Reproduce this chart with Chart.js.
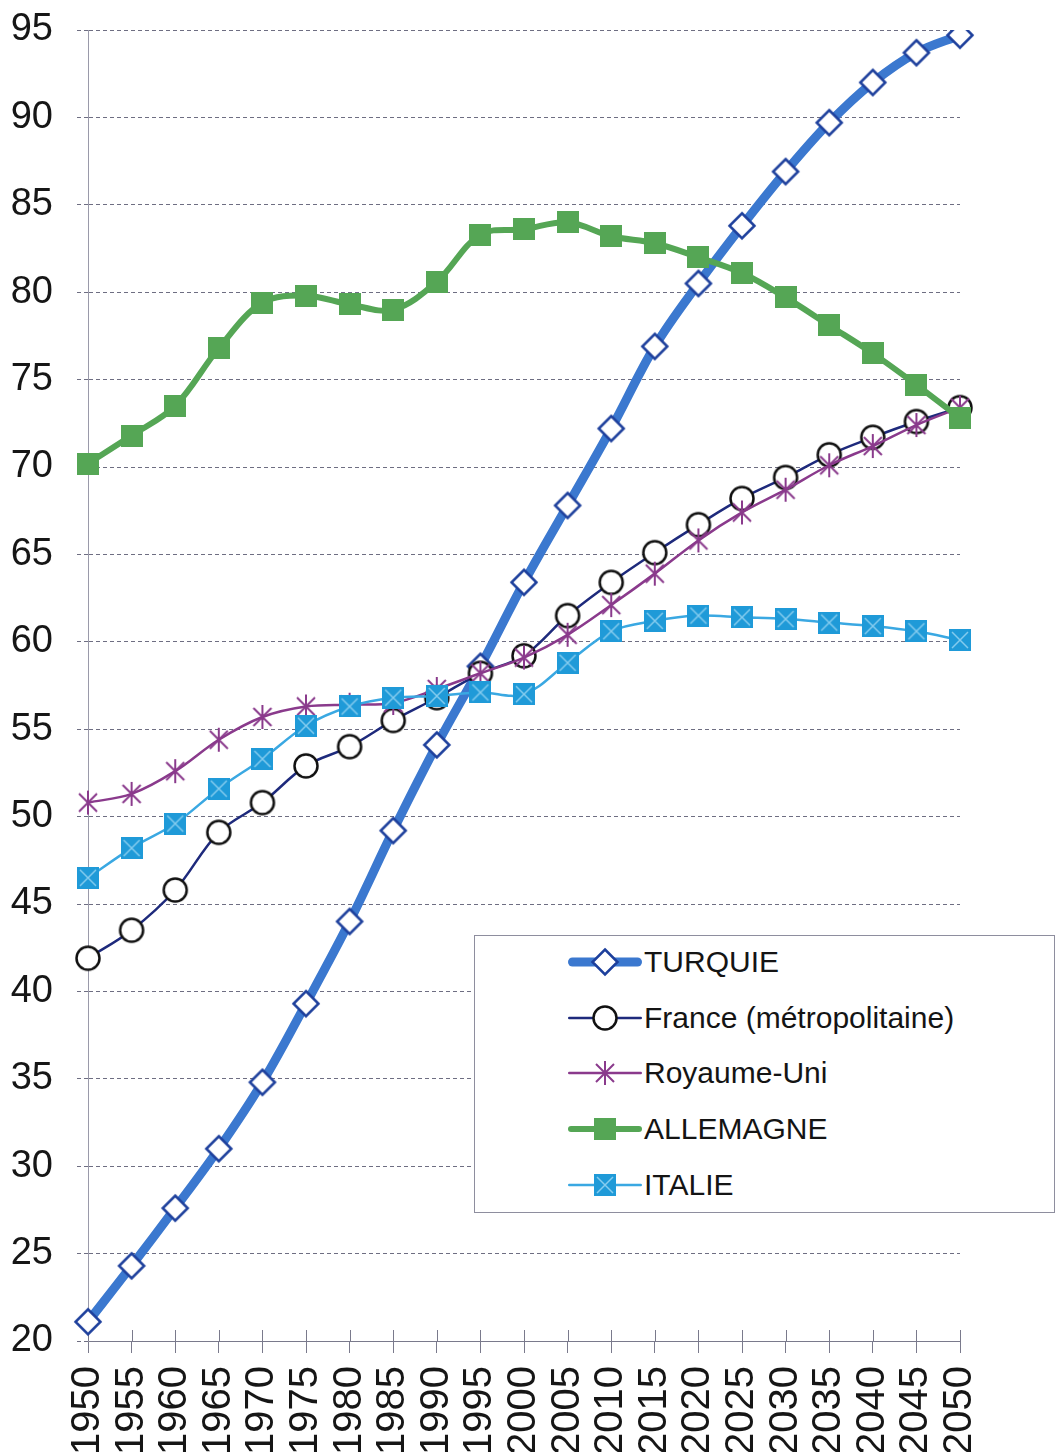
<!DOCTYPE html>
<html>
<head>
<meta charset="utf-8">
<script src="https://cdn.jsdelivr.net/npm/chart.js@4.4.0/dist/chart.umd.min.js"></script>
<style>
  body { margin: 0; background: #fff; overflow: hidden; }
  #cadre { position: relative; width: 1058px; height: 1452px; }
  #legende {
    position: absolute; left: 474px; top: 935px; width: 579px; height: 276px;
    border: 1px solid #8e8e9e; background: #fff;
    font-family: 'Liberation Sans', Arial, sans-serif;
  }
  .ligne { position: absolute; left: 92px; height: 40px; display: flex; align-items: center; }
  .ligne canvas { display: block; }
  .ligne span { font-size: 30px; color: #141414; margin-left: 1px; white-space: nowrap; }
</style>
</head>
<body>
<div id="cadre">
  <canvas id="graphique" width="1058" height="1452"></canvas>
  <div id="legende"></div>
</div>
<script>
// Années (axe horizontal)
const annees = ['1950', '1955', '1960', '1965', '1970', '1975', '1980', '1985', '1990', '1995', '2000',
                '2005', '2010', '2015', '2020', '2025', '2030', '2035', '2040', '2045', '2050'];

// Population par pays (millions)
const turquie    = [21.1, 24.3, 27.6, 31.0, 34.8, 39.3, 44.0, 49.2, 54.1, 58.6, 63.4,
                    67.8, 72.2, 76.9, 80.5, 83.8, 86.9, 89.7, 92.0, 93.7, 94.7];
const france     = [41.9, 43.5, 45.8, 49.1, 50.8, 52.9, 54.0, 55.5, 56.8, 58.2, 59.2,
                    61.5, 63.4, 65.1, 66.7, 68.2, 69.4, 70.7, 71.7, 72.6, 73.4];
const royaumeUni = [50.8, 51.3, 52.6, 54.4, 55.7, 56.3, 56.4, 56.5, 57.3, 58.2, 59.1,
                    60.4, 62.1, 63.9, 65.8, 67.4, 68.7, 70.1, 71.2, 72.4, 73.4];
const allemagne  = [70.2, 71.8, 73.5, 76.8, 79.4, 79.8, 79.3, 79.0, 80.6, 83.3, 83.6,
                    84.0, 83.2, 82.8, 82.0, 81.1, 79.7, 78.1, 76.5, 74.7, 72.8];
const italie     = [46.5, 48.2, 49.6, 51.6, 53.3, 55.2, 56.3, 56.8, 56.9, 57.1, 57.0,
                    58.8, 60.6, 61.2, 61.5, 61.4, 61.3, 61.1, 60.9, 60.6, 60.1];

const graduations = [20, 25, 30, 35, 40, 45, 50, 55, 60, 65, 70, 75, 80, 85, 90, 95];

// Marqueurs dessinés à la main (réutilisés dans la légende)
function creerMarqueur(taille, dessin) {
  const c = document.createElement('canvas');
  c.width = taille; c.height = taille;
  dessin(c.getContext('2d'), taille / 2);
  return c;
}

const losange = creerMarqueur(30, (g, m) => {
  g.beginPath();
  g.moveTo(m, m - 12.5); g.lineTo(m + 12.5, m); g.lineTo(m, m + 12.5); g.lineTo(m - 12.5, m);
  g.closePath();
  g.fillStyle = '#fff'; g.fill();
  g.lineWidth = 2.5; g.strokeStyle = '#1d3f9c'; g.stroke();
});

const cercle = creerMarqueur(28, (g, m) => {
  g.beginPath(); g.arc(m, m, 11.5, 0, Math.PI * 2);
  g.fillStyle = '#fff'; g.fill();
  g.lineWidth = 2.5; g.strokeStyle = '#111'; g.stroke();
});

const asterisque = creerMarqueur(28, (g, m) => {
  g.strokeStyle = '#8a3a8c'; g.lineWidth = 2;
  g.beginPath();
  g.moveTo(m, m - 12); g.lineTo(m, m + 12);
  g.moveTo(m - 9, m - 9); g.lineTo(m + 9, m + 9);
  g.moveTo(m + 9, m - 9); g.lineTo(m - 9, m + 9);
  g.stroke();
});

const carreVert = creerMarqueur(22, (g) => {
  g.fillStyle = '#55a655'; g.fillRect(0, 0, 22, 22);
});

const carreBleu = creerMarqueur(22, (g) => {
  g.fillStyle = '#1f9ad8'; g.fillRect(0, 0, 22, 22);
  g.strokeStyle = '#86cdef'; g.lineWidth = 1.5;
  g.beginPath();
  g.moveTo(3, 3); g.lineTo(19, 19);
  g.moveTo(19, 3); g.lineTo(3, 19);
  g.stroke();
});

const series = [
  { label: 'TURQUIE', data: turquie, couleur: '#3b78cf', epaisseur: 9, marqueur: losange, ordre: 5 },
  { label: 'France (métropolitaine)', data: france, couleur: '#1e2a7c', epaisseur: 2.5, marqueur: cercle, ordre: 4 },
  { label: 'Royaume-Uni', data: royaumeUni, couleur: '#8a3a8c', epaisseur: 2.5, marqueur: asterisque, ordre: 3 },
  { label: 'ALLEMAGNE', data: allemagne, couleur: '#55a655', epaisseur: 6, marqueur: carreVert, ordre: 2 },
  { label: 'ITALIE', data: italie, couleur: '#3aa8e2', epaisseur: 2.5, marqueur: carreBleu, ordre: 1 }
];

const grille = '#6e6e82';

// Graduations de l'axe des années qui traversent l'axe (partie au-dessus)
const tiretsCroises = {
  id: 'tiretsCroises',
  beforeDatasetsDraw(chart) {
    const x = chart.scales.x, g = chart.ctx;
    g.save();
    g.strokeStyle = '#7a7a8c'; g.lineWidth = 1;
    g.beginPath();
    x.ticks.forEach((t, i) => {
      const px = Math.round(x.getPixelForTick(i)) + 0.5;
      g.moveTo(px, x.top); g.lineTo(px, x.top - 11);
    });
    g.stroke();
    g.restore();
  }
};

new Chart(document.getElementById('graphique'), {
  type: 'line',
  data: {
    labels: annees,
    datasets: series.map(s => ({
      label: s.label,
      data: s.data,
      borderColor: s.couleur,
      backgroundColor: s.couleur,
      borderWidth: s.epaisseur,
      borderCapStyle: 'round',
      borderJoinStyle: 'round',
      tension: 0.35,
      pointStyle: s.marqueur,
      pointRadius: 12,
      order: s.ordre
    }))
  },
  plugins: [tiretsCroises],
  options: {
    responsive: false,
    animation: false,
    events: [],
    layout: { padding: { left: 0, right: 98, top: 30, bottom: 0 } },
    plugins: { legend: { display: false }, tooltip: { enabled: false } },
    scales: {
      x: {
        // hauteur fixe : les années débordent légèrement en bas
        afterFit: axe => { axe.height = 111; axe.paddingLeft = 0; axe.paddingRight = 0; },
        grid: { drawOnChartArea: false, drawTicks: true, tickLength: 12, tickColor: '#7a7a8c', tickWidth: 1 },
        border: { color: '#7a7a8c', width: 1 },
        ticks: {
          autoSkip: false, minRotation: 90, maxRotation: 90, padding: 13,
          color: '#161616', font: { family: 'Liberation Sans', size: 40 }
        }
      },
      y: {
        min: 20, max: 95,
        afterBuildTicks: axe => { axe.ticks = graduations.map(v => ({ value: v })); },
        afterFit: axe => { axe.width = 88; axe.paddingTop = 0; axe.paddingBottom = 0; },
        grid: { color: grille, lineWidth: 1, tickLength: 11, tickColor: grille, tickBorderDash: [4, 3] },
        border: { color: '#9a9aaa', width: 1, dash: [4, 3] },
        ticks: {
          padding: 24, color: '#161616',
          font: { family: 'Liberation Sans', size: 38 }
        }
      }
    }
  }
});

// Légende dans un cadre sur la zone du graphique
const legende = document.getElementById('legende');
series.forEach((s, i) => {
  const ligne = document.createElement('div');
  ligne.className = 'ligne';
  ligne.style.top = (6 + i * 55.7) + 'px';
  const c = document.createElement('canvas');
  c.width = 76; c.height = 30;
  const g = c.getContext('2d');
  g.strokeStyle = s.couleur; g.lineWidth = s.epaisseur; g.lineCap = 'round';
  g.beginPath(); g.moveTo(s.epaisseur / 2 + 1, 15); g.lineTo(75 - s.epaisseur / 2, 15); g.stroke();
  g.drawImage(s.marqueur, 38 - s.marqueur.width / 2, 15 - s.marqueur.height / 2);
  const t = document.createElement('span');
  t.textContent = s.label;
  ligne.appendChild(c);
  ligne.appendChild(t);
  legende.appendChild(ligne);
});
</script>
</body>
</html>
